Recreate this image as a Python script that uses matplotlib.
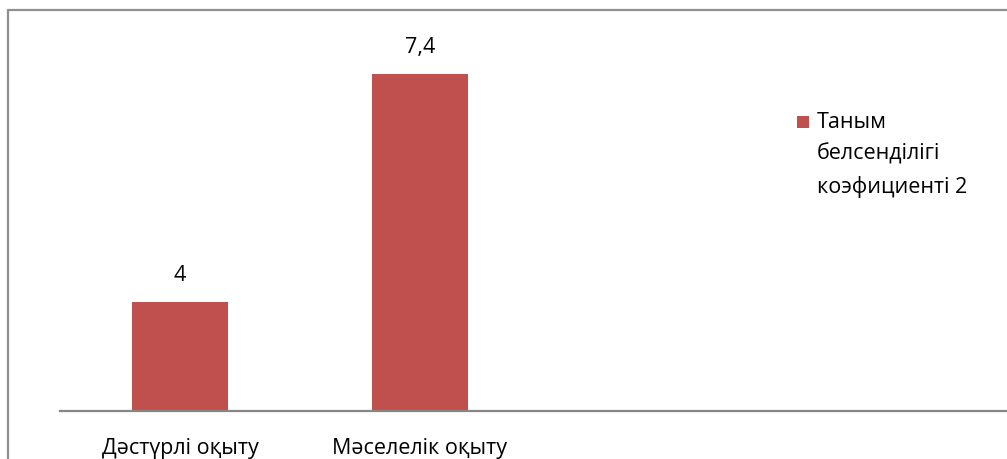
import matplotlib
matplotlib.use("Agg")
import matplotlib.pyplot as plt
from matplotlib.patches import Rectangle

plt.rcParams['font.family'] = ['Open Sans', 'DejaVu Sans']

categories = ["Дәстүрлі оқыту", "Мәселелік оқыту"]
values = [4, 7.4]
series_name = "Таным\nбелсенділігі\nкоэфициенті 2"

bar_color = "#C0504D"
axis_color = "#868686"
fs = 15.5

fig = plt.figure(figsize=(10.07, 4.59), dpi=100)
ax = fig.add_axes([60 / 1007, 48.5 / 459, 1 - 60 / 1007, 1 - 48.5 / 459])

x = list(range(len(categories)))
bars = ax.bar(x, values, width=0.4, color=bar_color, zorder=2)

# axis starts above zero, as in the original worksheet
ax.set_ylim(2.382, 8.503)
ax.set_xlim(-0.5, 3.446)

for rect, v in zip(bars, values):
    ax.annotate(f"{v:g}".replace(".", ","),
                xy=(rect.get_x() + rect.get_width() / 2, v),
                xytext=(0, 19), textcoords="offset points",
                ha="center", va="center", fontsize=fs, color="black")

ax.set_xticks(x)
ax.set_xticklabels(categories, fontsize=fs)
ax.tick_params(axis="x", length=0, pad=20)
ax.set_yticks([])
for side in ["left", "right", "top"]:
    ax.spines[side].set_visible(False)
ax.spines["bottom"].set_color(axis_color)
ax.spines["bottom"].set_linewidth(1.6)

# legend: square swatch plus wrapped series name
W, H = 1007, 459
fig.add_artist(Rectangle(((803 - 6) / W, 1 - (122 + 6) / H), 12 / W, 12 / H,
                         transform=fig.transFigure, facecolor=bar_color,
                         edgecolor="none"))
fig.text(817 / W, 1 - 155 / H, series_name, ha="left", va="center",
         fontsize=fs, linespacing=1.62)

# chart frame
fig.add_artist(Rectangle((8 / W, -0.2), 1.5, 1.2 - 10 / H,
                         transform=fig.transFigure, fill=False,
                         edgecolor="#8f8f8f", linewidth=1.6))

fig.savefig("out.png", dpi=100)
